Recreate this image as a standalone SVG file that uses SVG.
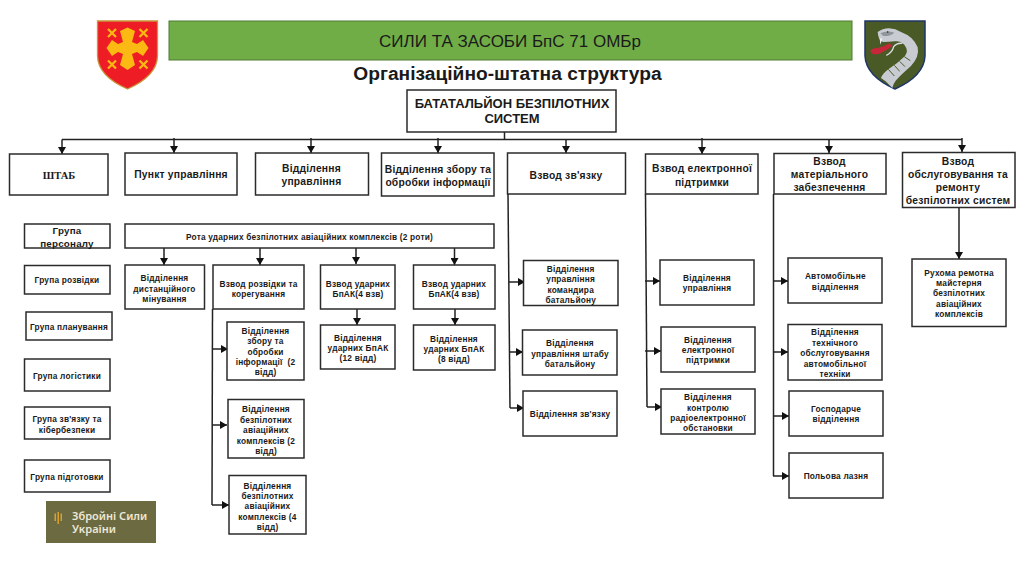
<svg xmlns="http://www.w3.org/2000/svg" width="1024" height="574" viewBox="0 0 1024 574">
<style>
text{font-family:"Liberation Sans",Arial,sans-serif;font-weight:700;fill:#1a1a1a;text-anchor:middle}
.b{fill:#fff;stroke:#2b2b2b;stroke-width:1.5}
.s{font-size:8.300px;letter-spacing:.2px}
.m{font-size:10.300px;letter-spacing:.2px}
.c{fill:none;stroke:#222;stroke-width:1.5}
.a{marker-end:url(#ah)}
</style>
<defs><marker id="ah" markerUnits="userSpaceOnUse" markerWidth="8" markerHeight="8" refX="7" refY="4" orient="auto"><path d="M0 0L7 4L0 8Z" fill="#111"/></marker></defs>
<rect width="1024" height="574" fill="#fff"/>
<g id="emblem-left">
<path d="M97.500 21H157.500V56Q157 76 127.500 89Q98 76 97.500 56Z" fill="#ee1c25" stroke="#c9963a" stroke-width="1.300"/>
<path d="M127.500 27.500L135 31L132 42L137 44L143 40L148.500 48L143 56L137 52L132 54L135 65L127.500 70L120 65L123 54L118 52L112 56L106.500 48L112 40L118 44L123 42L120 31Z" fill="#fdb913"/>
<g stroke="#fdb913" stroke-width="2.300"><path d="M108 29L116 37M116 29L108 37M139.500 29L147.500 37M147.500 29L139.500 37M108 60.500L116 68.500M116 60.500L108 68.500M139.500 60.500L147.500 68.500M147.500 60.500L139.500 68.500"/></g>
</g>
<g id="emblem-right">
<path d="M865 21H925V56Q924 76 895 89Q866 76 865 56Z" fill="#4a5a26" stroke="#1f3566" stroke-width="1.500"/>
<g transform="translate(855 10) scale(.3333)">
<path d="M68 66Q82 56 102 55Q122 56 138 66Q176 80 188 112Q194 140 168 168Q138 194 122 212Q114 222 112 234L92 214L78 204Q82 192 100 178Q130 158 150 138Q162 122 148 104Q136 92 120 94Q100 96 84 96Q70 92 68 66Z" fill="#c8ccd2"/>
<path d="M76 70Q95 60 118 68Q105 80 85 78Z" fill="#8f959b"/>
<path d="M103 100Q85 112 68 114Q50 114 46 122Q50 136 70 132Q88 126 112 108Z" fill="#c6283a"/>
<path d="M74 84L76 104L82 86Z" fill="#eee"/>
<path d="M94 136Q112 128 116 110Q126 98 142 100" fill="none" stroke="#dcdfe3" stroke-width="4"/>
<path d="M100 178L118 198M118 166L134 184M134 154L150 170M148 140L166 152" stroke="#4a5a26" stroke-width="3" fill="none"/>
<circle cx="98" cy="66" r="2.500" fill="#222"/>
</g>
</g>
<g id="title"><rect x="169" y="21" width="683" height="39" fill="#70ad47" stroke="#4f7a35"/><text x="510" y="47" style="font-size:17px;font-weight:400">СИЛИ ТА ЗАСОБИ БпС 71 ОМБр</text></g>
<text id="heading" x="507.500" y="80" style="font-size:19.200px">Організаційно-штатна структура</text>

<g id="connectors">
<path class="c" d="M504.500 132V139.500M62 139.500H962"/>
<path class="c a" d="M62 139.500V154"/><path class="c a" d="M174 138V153"/><path class="c a" d="M311 138V153"/><path class="c a" d="M438 138V153"/><path class="c a" d="M566 139V153"/><path class="c a" d="M702 138V154"/><path class="c a" d="M829 139V153"/><path class="c a" d="M962 138V152"/>
<path class="c a" d="M164 248V265"/><path class="c a" d="M260 248V265"/><path class="c a" d="M356 248V264"/><path class="c a" d="M454.500 248V265"/><path class="c a" d="M357 309V325"/><path class="c a" d="M455 308V325"/>
<path class="c" d="M212.500 309L212 505"/><path class="c a" d="M212.500 349H228"/><path class="c a" d="M212 425H227"/><path class="c a" d="M212 505H229"/>
<path class="c" d="M508 194L510 408"/><path class="c a" d="M509 282H525"/><path class="c a" d="M509 352H523"/><path class="c a" d="M510 408H524"/>
<path class="c" d="M645.500 194L647 407"/><path class="c a" d="M645 281H660"/><path class="c a" d="M645 351H661"/><path class="c a" d="M647 407H662"/>
<path class="c" d="M773.500 194V476"/><path class="c a" d="M773 281H788"/><path class="c a" d="M773 352H788"/><path class="c a" d="M773 416H789"/><path class="c a" d="M773 476H789"/>
<path class="c a" d="M959 207V259"/>
</g>

<g id="n-root"><rect class="b" x="407" y="90" width="209" height="42"/><text x="512" y="108" style="font-size:13px">БАТАТАЛЬЙОН БЕЗПІЛОТНИХ</text><text x="512" y="123" style="font-size:13px">СИСТЕМ</text></g>
<g id="n-shtab"><rect class="b" x="9.500" y="154" width="98.500" height="41"/><text x="59" y="179" style="font-family:'Liberation Serif',serif;font-size:10.500px">ШТАБ</text></g>
<g id="n-punkt"><rect class="b" x="125" y="153" width="112" height="42"/><text class="m" x="181" y="178">Пункт управління</text></g>
<g id="n-vidd-upr"><rect class="b" x="255.500" y="153" width="113" height="42"/><text class="m" x="311.500" y="172">Відділення</text><text class="m" x="311.500" y="185">управління</text></g>
<g id="n-zbir"><rect class="b" x="381.500" y="153" width="112.500" height="43"/><text class="m" x="438" y="173">Відділення збору та</text><text class="m" x="438" y="186">обробки інформації</text></g>
<g id="n-zviazok"><rect class="b" x="507.500" y="153" width="118" height="41"/><text class="m" x="566" y="179">Взвод зв'язку</text></g>
<g id="n-elektr"><rect class="b" x="645.500" y="154" width="112.500" height="40"/><text class="m" x="702" y="172">Взвод електронної</text><text class="m" x="702" y="186">підтримки</text></g>
<g id="n-mat"><rect class="b" x="774" y="153.500" width="112" height="40.500"/><text class="m" x="829.500" y="165">Взвод</text><text class="m" x="829.500" y="178">матеріального</text><text class="m" x="829.500" y="191">забезпечення</text></g>
<g id="n-obsl"><rect class="b" x="902.500" y="152.500" width="112.500" height="55"/><text class="m" x="958" y="165">Взвод</text><text class="m" x="958" y="178">обслуговування та</text><text class="m" x="958" y="191">ремонту</text><text class="m" x="958" y="204">безпілотних систем</text></g>

<g id="n-pers"><rect class="b" x="24.500" y="224" width="85.500" height="24"/><text class="m" x="67" y="234" style="font-size:9.800px">Група</text><text class="m" x="67" y="247" style="font-size:9.800px">персоналу</text></g>
<g id="n-rozv"><rect class="b" x="24.500" y="265.500" width="85.500" height="28.500"/><text class="s" x="67" y="283">Група розвідки</text></g>
<g id="n-plan"><rect class="b" x="26" y="312" width="86" height="28"/><text class="s" x="69" y="330">Група планування</text></g>
<g id="n-log"><rect class="b" x="24.500" y="359" width="85.500" height="32"/><text class="s" x="67" y="379">Група логістики</text></g>
<g id="n-kiber"><rect class="b" x="24.500" y="407" width="85.500" height="32"/><text class="s" x="67" y="422">Група зв'язку та</text><text class="s" x="67" y="433">кібербезпеки</text></g>
<g id="n-pidg"><rect class="b" x="24.500" y="460" width="85.500" height="32"/><text class="s" x="67" y="480">Група підготовки</text></g>

<g id="n-rota"><rect class="b" x="125" y="224" width="369" height="24"/><text class="s" x="309.500" y="240">Рота ударних безпілотних авіаційних комплексів (2 роти)</text></g>
<g id="n-dist"><rect class="b" x="125" y="265" width="79.500" height="44"/><text class="s" x="164.500" y="281">Відділення</text><text class="s" x="164.500" y="291.500">дистанційного</text><text class="s" x="164.500" y="302">мінування</text></g>
<g id="n-rozv-kor"><rect class="b" x="213" y="265" width="91" height="44"/><text class="s" x="258.500" y="286.500">Взвод розвідки та</text><text class="s" x="258.500" y="297">корегування</text></g>
<g id="n-zbir2"><rect class="b" x="227" y="322" width="77" height="58"/><text class="s" x="265.500" y="334">Відділення</text><text class="s" x="265.500" y="344.300">збору та</text><text class="s" x="265.500" y="354.600">обробки</text><text class="s" x="265.500" y="365" xml:space="preserve">інформації  (2</text><text class="s" x="265.500" y="375.300">відд)</text></g>
<g id="n-bez2"><rect class="b" x="228" y="399.500" width="76" height="58.500"/><text class="s" x="266" y="412.300">Відділення</text><text class="s" x="266" y="423">безпілотних</text><text class="s" x="266" y="433.300">авіаційних</text><text class="s" x="266" y="443.600">комплексів (2</text><text class="s" x="266" y="454">відд)</text></g>
<g id="n-bez4"><rect class="b" x="229" y="475.500" width="77" height="58.500"/><text class="s" x="267.500" y="488.600">Відділення</text><text class="s" x="267.500" y="499">безпілотних</text><text class="s" x="267.500" y="509.300">авіаційних</text><text class="s" x="267.500" y="519.600">комплексів (4</text><text class="s" x="267.500" y="530">відд)</text></g>
<g id="n-ud1"><rect class="b" x="320.500" y="265" width="74.500" height="44"/><text class="s" x="358" y="286.500">Взвод ударних</text><text class="s" x="358" y="297">БпАК(4 взв)</text></g>
<g id="n-ud2"><rect class="b" x="413.500" y="265" width="81.500" height="44"/><text class="s" x="454" y="286.500">Взвод ударних</text><text class="s" x="454" y="297">БпАК(4 взв)</text></g>
<g id="n-ud12"><rect class="b" x="320.500" y="325" width="74.500" height="44"/><text class="s" x="358" y="340.600">Відділення</text><text class="s" x="358" y="351">ударних БпАК</text><text class="s" x="358" y="361.300">(12 відд)</text></g>
<g id="n-ud8"><rect class="b" x="413.500" y="325" width="81.500" height="45"/><text class="s" x="454" y="341.600">Відділення</text><text class="s" x="454" y="352">ударних БпАК</text><text class="s" x="454" y="362.300">(8 відд)</text></g>

<g id="n-kom"><rect class="b" x="523.500" y="260.500" width="94.500" height="45"/><text class="s" x="570.700" y="271.600">Відділення</text><text class="s" x="570.700" y="282.300">управління</text><text class="s" x="570.700" y="292.600">командира</text><text class="s" x="570.700" y="303">батальйону</text></g>
<g id="n-sht"><rect class="b" x="522.500" y="330" width="94.500" height="45"/><text class="s" x="570" y="346.300">Відділення</text><text class="s" x="570" y="356.600">управління штабу</text><text class="s" x="570" y="367">батальйону</text></g>
<g id="n-zv"><rect class="b" x="523" y="391" width="94" height="45"/><text class="s" x="570" y="417.300">Відділення зв'язку</text></g>
<g id="n-e1"><rect class="b" x="660" y="260" width="94" height="45"/><text class="s" x="707" y="281">Відділення</text><text class="s" x="707" y="291.300">управління</text></g>
<g id="n-e2"><rect class="b" x="661" y="327" width="94" height="45"/><text class="s" x="708" y="342.600">Відділення</text><text class="s" x="708" y="353">електронної</text><text class="s" x="708" y="363.300">підтримки</text></g>
<g id="n-e3"><rect class="b" x="661" y="389" width="94" height="45"/><text class="s" x="708" y="400.300">Відділення</text><text class="s" x="708" y="410.600">контролю</text><text class="s" x="708" y="421">радіоелектронної</text><text class="s" x="708" y="431.300">обстановки</text></g>
<g id="n-m1"><rect class="b" x="788" y="258" width="94" height="45"/><text class="s" x="835.300" y="279.300">Автомобільне</text><text class="s" x="835.300" y="290">відділення</text></g>
<g id="n-m2"><rect class="b" x="788" y="324.500" width="94" height="55.500"/><text class="s" x="835" y="335.300">Відділення</text><text class="s" x="835" y="346">технічного</text><text class="s" x="835" y="356.300">обслуговування</text><text class="s" x="835" y="366.600">автомобільної</text><text class="s" x="835" y="377">техніки</text></g>
<g id="n-m3"><rect class="b" x="789" y="391" width="94" height="45"/><text class="s" x="836" y="412">Господарче</text><text class="s" x="836" y="422.300">відділення</text></g>
<g id="n-m4"><rect class="b" x="789" y="453" width="94" height="45"/><text class="s" x="836" y="479.300">Польова лазня</text></g>
<g id="n-ruh"><rect class="b" x="912" y="259" width="94" height="67.500"/><text class="s" x="959" y="276">Рухома ремотна</text><text class="s" x="959" y="286">майстерня</text><text class="s" x="959" y="296.300">безпілотних</text><text class="s" x="959" y="306.600">авіаційних</text><text class="s" x="959" y="317">комплексів</text></g>

<g id="logo"><rect x="46" y="501" width="110" height="42" fill="#6c6a41"/>
<path d="M54.500 513.500V521H56V513.500ZM57.500 512V524H59V512ZM60.500 513.500V521H62V513.500Z" fill="#d9a02f"/>
<text x="72" y="520" style="font-family:'Noto Sans',sans-serif;font-size:11px;font-weight:600;fill:#ece8d6;text-anchor:start">Збройні Сили</text>
<text x="72" y="533" style="font-family:'Noto Sans',sans-serif;font-size:11px;font-weight:600;fill:#ece8d6;text-anchor:start">України</text></g>
</svg>
